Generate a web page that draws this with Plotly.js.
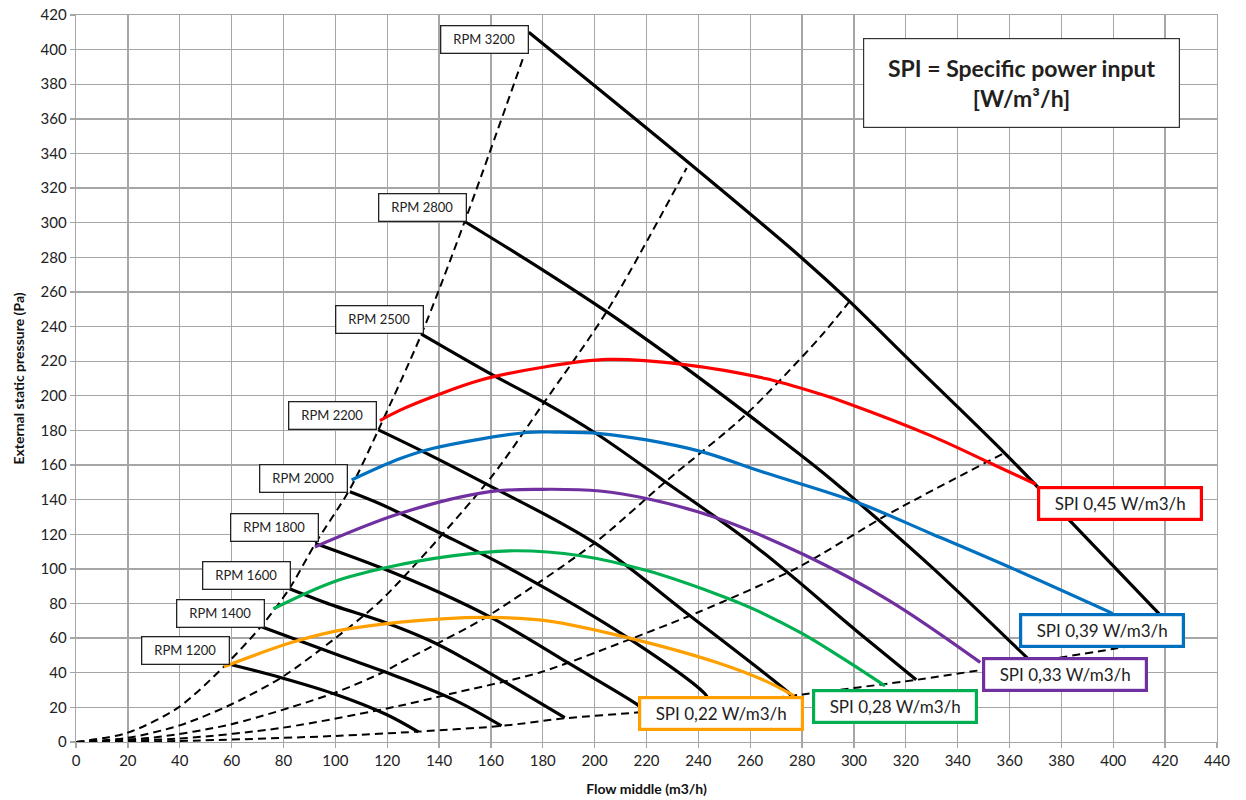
<!DOCTYPE html>
<html>
<head>
<meta charset="utf-8">
<script src="https://cdn.plot.ly/plotly-3.0.1.min.js"></script>
<style>
html,body{margin:0;padding:0;background:#fff;}
#chart{width:1246px;height:800px;}
</style>
</head>
<body>
<div id="chart"></div>
<script>
// ---- Fan curves (RPM) ----
var rpm1200X = [60, 79.5, 100, 119.5, 132];
var rpm1200Y = [44.6, 37, 27.6, 16, 5.8];
var rpm1400X = [71.5, 100, 124.8, 147, 164.1];
var rpm1400Y = [66.6, 50.8, 37.3, 23.5, 9.3];
var rpm1600X = [82.3, 100, 117.4, 136.4, 150, 170, 188.5];
var rpm1600Y = [88.6, 78.5, 70, 58.6, 48, 30.5, 14.1];
var rpm1800X = [92.3, 117.4, 140, 160, 175.6, 190, 216.2, 220];
var rpm1800Y = [114.7, 100.8, 86.5, 72, 58.6, 45.5, 21.9, 17.5];
var rpm2000X = [105.6, 117.4, 140, 170, 212.7, 242.6, 245];
var rpm2000Y = [144.6, 137.5, 121, 98, 60.3, 27.7, 21.5];
var rpm2200X = [116.6, 134.2, 157, 200, 235, 274.7, 276];
var rpm2200Y = [180.3, 167.5, 150, 115, 75, 28.6, 26.5];
var rpm2500X = [133.2, 160.8, 181.4, 200.7, 226.5, 262, 300.9, 324];
var rpm2500Y = [235.6, 211.9, 195.5, 178.1, 151.1, 113, 64.3, 35.9];
var rpm2800X = [149.9, 180.2, 204.6, 232.9, 258.7, 287, 297.7, 330, 366, 368];
var rpm2800Y = [300.7, 272.5, 248.6, 218.6, 189.7, 156.9, 143.5, 101, 49.8, 47];
var rpm3200X = [174.6, 240, 280, 297.7, 320, 358.3, 383.8, 416.5, 424];
var rpm3200Y = [410, 330, 279.5, 255.4, 222.6, 166.6, 127, 75.9, 64];

// ---- System curves (dashed) ----
var sys1X = [0, 20, 39.5, 57, 71.5, 82.3, 92.3, 105.6, 116.6, 133.2, 149.9, 172.9];
var sys1Y = [0, 5.4, 20, 43.5, 67, 88.6, 114.7, 146, 180.3, 235.6, 300.7, 397.2];
var sys2X = [0, 20, 40, 60, 79.5, 100, 117.4, 159.6, 180.2, 204.6, 235.5];
var sys2Y = [0, 2.4, 9.6, 21.8, 37.5, 60, 81.5, 152, 195.5, 248.6, 331.6];
var sys3X = [0, 30, 60, 99, 118, 124.8, 141.5, 158, 200, 227.8, 258.7, 287, 298];
var sys3Y = [0, 2.6, 10.3, 28, 40, 45.5, 58.6, 72, 115, 151, 189.7, 234, 254];
var sys4X = [0, 40, 80, 124.8, 144.1, 178.9, 212.3, 239.7, 278.3, 313.6, 357.5];
var sys4Y = [0, 2, 8.3, 20.9, 27.7, 40.2, 58.6, 74.8, 100.8, 131.9, 166.6];
var sys5X = [0, 40, 100, 131.9, 164.1, 188.5, 216.2, 250, 280.2, 324, 348.7, 399.7, 424];
var sys5Y = [0, 0.6, 3.5, 6, 9.3, 13.7, 17, 22, 27.5, 35.9, 41.5, 53.7, 60];

// ---- SPI curves ----
var spi022X = [57, 82.7, 99.2, 117.4, 150, 160, 181.8, 212.7, 248, 265.8, 277];
var spi022Y = [43.5, 57.3, 63.8, 68, 71.8, 72, 70, 60.3, 45.5, 35.3, 26.6];
var spi028X = [76.1, 99.2, 119.8, 145, 168.9, 194.6, 220.4, 246.1, 260.3, 279.6, 296, 312];
var spi028Y = [77, 92.5, 100.8, 107.5, 110.5, 107.6, 98.9, 86, 77.5, 63, 48, 32.4];
var spi033X = [92.1, 124.9, 159.6, 180, 202, 220.4, 246, 281, 313.6, 348.7];
var spi033Y = [112.7, 132, 144.6, 146, 145, 140.5, 130, 108, 81.7, 46];
var spi039X = [106.3, 124.8, 137.8, 173.8, 185, 202, 220, 241.5, 265.8, 300.9, 329.6, 361.5, 399.7];
var spi039Y = [151.4, 163.6, 169.7, 178.8, 179, 178.2, 174.5, 167.6, 155.5, 138.6, 120.5, 100, 74.3];
var spi045X = [117.2, 124.8, 137.8, 155.8, 180, 205, 233.9, 265.8, 287, 297.7, 329.6, 353.5, 370.2];
var spi045Y = [185.7, 191.6, 199.6, 209, 216.5, 221, 218.2, 210, 201, 195.6, 177, 160.5, 148.9];

// ---- Labels ----
var rpmLabels = ['RPM 1200', 'RPM 1400', 'RPM 1600', 'RPM 1800', 'RPM 2000', 'RPM 2200', 'RPM 2500', 'RPM 2800', 'RPM 3200'];
var rpmLabelX = [42.3, 55.9, 65.6, 76.4, 87.9, 98.9, 116.9, 133.75, 157.7];
var rpmLabelY = [52.7, 74.5, 96.2, 123.8, 152.2, 188.5, 244.2, 308.6, 405.7];
var spiLabels = ['SPI 0,22 W/m3/h', 'SPI 0,28 W/m3/h', 'SPI 0,33 W/m3/h', 'SPI 0,39 W/m3/h', 'SPI 0,45 W/m3/h'];
var spiLabelX = [248.6, 315.7, 381.5, 395.5, 402.6];
var spiLabelY = [16.3, 20.8, 39.2, 64.5, 138];
var spiColors = ['#ffa000', '#00b050', '#7030a0', '#0070c0', '#ff0000'];
var titleBoxText = '<b>SPI = Specific power input</b><br><b>[W/m³/h]</b>';
var xTitle = 'Flow middle (m3/h)';
var yTitle = 'External static pressure (Pa)';

var FONT = 'Lato, "Liberation Sans", sans-serif';
var traces = [];
function dashed(x, y) {
  traces.push({x: x, y: y, type: 'scatter', mode: 'lines', hoverinfo: 'skip',
    line: {color: '#000', width: 2, dash: '8px,5px', shape: 'spline', smoothing: 0.8}});
}
function solid(x, y, c) {
  traces.push({x: x, y: y, type: 'scatter', mode: 'lines', hoverinfo: 'skip',
    line: {color: c, width: 3.2, shape: 'spline', smoothing: 1}});
}
dashed(sys1X, sys1Y); dashed(sys2X, sys2Y); dashed(sys3X, sys3Y); dashed(sys4X, sys4Y); dashed(sys5X, sys5Y);
solid(rpm1200X, rpm1200Y, '#000'); solid(rpm1400X, rpm1400Y, '#000'); solid(rpm1600X, rpm1600Y, '#000');
solid(rpm1800X, rpm1800Y, '#000'); solid(rpm2000X, rpm2000Y, '#000'); solid(rpm2200X, rpm2200Y, '#000');
solid(rpm2500X, rpm2500Y, '#000'); solid(rpm2800X, rpm2800Y, '#000'); solid(rpm3200X, rpm3200Y, '#000');
solid(spi022X, spi022Y, spiColors[0]); solid(spi028X, spi028Y, spiColors[1]); solid(spi033X, spi033Y, spiColors[2]);
solid(spi039X, spi039Y, spiColors[3]); solid(spi045X, spi045Y, spiColors[4]);

var annotations = [];
for (var i = 0; i < rpmLabels.length; i++) {
  annotations.push({x: rpmLabelX[i], y: rpmLabelY[i], xref: 'x', yref: 'y', text: rpmLabels[i],
    showarrow: false, xanchor: 'center', yanchor: 'middle', width: 86, height: 26, borderpad: 0,
    bgcolor: '#fff', bordercolor: '#222', borderwidth: 1.3,
    font: {family: FONT, size: 13, color: '#222'}});
}
for (var j = 0; j < spiLabels.length; j++) {
  annotations.push({x: spiLabelX[j], y: spiLabelY[j], xref: 'x', yref: 'y', text: spiLabels[j],
    showarrow: false, xanchor: 'center', yanchor: 'middle', width: 160, height: 29, borderpad: 0,
    bgcolor: '#fff', bordercolor: spiColors[j], borderwidth: 3.2,
    font: {family: FONT, size: 17, color: '#222'}});
}
annotations.push({x: 364.5, y: 380.5, xref: 'x', yref: 'y', text: titleBoxText,
  showarrow: false, xanchor: 'center', yanchor: 'middle', width: 315, height: 88, borderpad: 0,
  bgcolor: '#fff', bordercolor: '#333', borderwidth: 1.2,
  font: {family: FONT, size: 23, color: '#231f20'}});

var axisCommon = {
  showgrid: true, gridcolor: '#a6a6a6', gridwidth: 1.3, zeroline: false,
  showline: true, linecolor: '#a6a6a6', linewidth: 1.3, mirror: true,
  ticks: 'outside', ticklen: 5, tickcolor: '#a6a6a6', tickwidth: 1.3,
  tickfont: {family: FONT, size: 15, color: '#222'}, automargin: false, fixedrange: true
};
var layout = {
  width: 1246, height: 800,
  margin: {l: 76, r: 29, t: 15, b: 58},
  paper_bgcolor: '#fff', plot_bgcolor: '#fff', showlegend: false,
  xaxis: Object.assign({}, axisCommon, {range: [0, 440], tick0: 0, dtick: 20,
    title: {text: '<b>' + xTitle + '</b>', font: {family: FONT, size: 14, color: '#111'}, standoff: 16}}),
  yaxis: Object.assign({}, axisCommon, {range: [0, 420], tick0: 0, dtick: 20,
    title: {text: '<b>' + yTitle + '</b>', font: {family: FONT, size: 14, color: '#111'}, standoff: 12}}),
  annotations: annotations
};
Plotly.newPlot('chart', traces, layout, {displayModeBar: false, staticPlot: true});
</script>
</body>
</html>
